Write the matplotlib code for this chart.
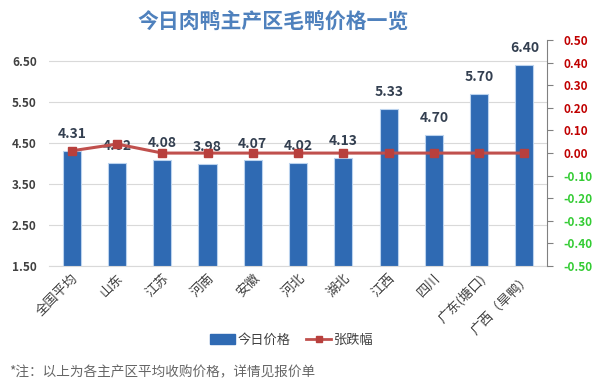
import numpy as np
import matplotlib.pyplot as plt
from matplotlib.lines import Line2D
from matplotlib.patches import Patch

plt.rcParams['font.family'] = ['Noto Sans CJK SC', 'DejaVu Sans']

# data
regions = ['全国平均', '山东', '江苏', '河南', '安徽', '河北', '湖北',
           '江西', '四川', '广东(塘口)', '广西（旱鸭）']
price_today = [4.31, 4.02, 4.08, 3.98, 4.07, 4.02, 4.13, 5.33, 4.70, 5.70, 6.40]
price_change = [0.01, 0.04, 0.00, 0.00, 0.00, 0.00, 0.00, 0.00, 0.00, 0.00, 0.00]
left_ticks = [1.5, 2.5, 3.5, 4.5, 5.5, 6.5]
right_ticks = [0.5, 0.4, 0.3, 0.2, 0.1, 0.0, -0.1, -0.2, -0.3, -0.4, -0.5]

BAR = '#2F6AB3'
LINE = '#C0504D'
TEXT = '#404040'

fig = plt.figure(figsize=(5.92, 3.90), dpi=100)
ax = fig.add_axes([0.083, 0.318, 0.841, 0.579])
x = np.arange(len(regions))

bars = ax.bar(x, price_today, width=0.4, color=BAR, zorder=2,
              edgecolor='#BBD3EE', linewidth=0.8)
ax.set_ylim(1.5, 7.0)
ax.set_xlim(-0.5, len(regions) - 0.5)
ax.set_yticks(left_ticks)
ax.set_yticklabels([f'{t:.2f}' for t in left_ticks], fontsize=8.5,
                   color=TEXT, fontweight='bold')
ax.grid(axis='y', color='#D9D9D9', linewidth=0.8, zorder=0)
ax.tick_params(axis='y', length=0, pad=9)
ax.tick_params(axis='x', length=0, pad=4)
for s in ['top', 'right', 'left']:
    ax.spines[s].set_visible(False)
ax.spines['bottom'].set_color('#D9D9D9')

ax.set_xticks(x)
ax.set_xticklabels(regions, rotation=45, ha='right', rotation_mode='anchor',
                   fontsize=9.5, color=TEXT)

for xi, v in zip(x, price_today):
    ax.annotate(f'{v:.2f}', (xi, v), xytext=(0, 7), textcoords='offset points',
                ha='center', va='bottom', fontsize=10, fontweight='bold',
                color='#333F50', zorder=5)

ax2 = ax.twinx()
ax2.plot(x, price_change, color=LINE, linewidth=2.2, marker='s',
         markersize=6, markerfacecolor='#B8403D', markeredgecolor='#B8403D',
         zorder=4)
ax2.set_ylim(-0.5, 0.5)
ax2.set_yticks(right_ticks)
ax2.set_yticklabels([f'{t:.2f}' for t in right_ticks], fontsize=8.5,
                    fontweight='bold')
for lab, t in zip(ax2.get_yticklabels(), right_ticks):
    lab.set_color('#C00000' if t >= 0 else '#33CC33')
ax2.tick_params(axis='y', length=4, color='#808080', pad=8)
for s in ['top', 'left', 'bottom']:
    ax2.spines[s].set_visible(False)
ax2.spines['right'].set_color('#808080')

fig.text(0.462, 0.943, '今日肉鸭主产区毛鸭价格一览', ha='center', va='center',
         fontsize=15, fontweight='bold', color='#4F81BD')

handles = [Patch(facecolor=BAR, edgecolor=BAR),
           Line2D([0], [0], color=LINE, linewidth=2, marker='s',
                  markersize=5, markerfacecolor='#B8403D',
                  markeredgecolor='#B8403D')]
fig.legend(handles, ['今日价格', '张跌幅'], loc='center',
           bbox_to_anchor=(0.493, 0.128), ncol=2, frameon=False,
           fontsize=9.5, handlelength=1.9, columnspacing=1.2,
           handletextpad=0.2, labelcolor=TEXT)

fig.text(0.015, 0.045, '*注：以上为各主产区平均收购价格，详情见报价单',
         ha='left', va='center', fontsize=9.8, color='#666666')

fig.savefig('out.png', dpi=100)
